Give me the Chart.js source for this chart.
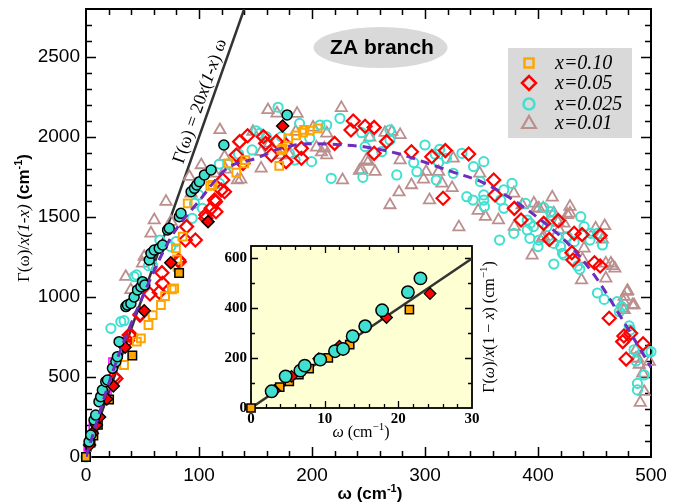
<!DOCTYPE html>
<html>
<head>
<meta charset="utf-8">
<script src="https://cdn.jsdelivr.net/npm/chart.js@4.4.1/dist/chart.umd.min.js"></script>
<style>
html, body { margin: 0; padding: 0; background: #fff; }
#wrap { position: relative; width: 678px; height: 504px; }
#main { position: absolute; left: 0; top: 0; }
#inset { position: absolute; left: 200px; top: 230px; }
</style>
</head>
<body>
<div id="wrap">
  <canvas id="main" width="678" height="504" style="width:678px;height:504px"></canvas>
  <canvas id="inset" width="310" height="215" style="width:310px;height:215px"></canvas>
</div>
<script>
// ---- data: [omega (cm^-1), Gamma/x(1-x) (cm^-1)] ----
var seriesLabels = ["x=0.10", "x=0.05", "x=0.025", "x=0.01"];

var orangeOpen = [[33.7,575],[45,721],[48.6,742],[55.3,825],[59,887],[66.3,950],[70,1006],[76,1048],[78,1054],[81,1189],[80.5,1235],[79.6,1304],[85.5,1377],[90,1585],[110,1694],[112,1700],[126,1835],[133,1777],[140,1835],[141,1856],[171,1819],[173,1919],[174,1929],[179,1992],[186,2010],[192,2027],[193,2044],[198,2040],[205,2054]];

var redOpen = [[24.9,502],[26.5,490],[36.7,727],[38.2,762],[39.7,762],[47.7,887],[48,894],[56.6,1019],[64.8,1030],[67.8,1085],[67.2,1152],[82,1231],[82.6,1220],[88,1356],[96.8,1356],[89,1440],[106,1492],[106,1513],[110.7,1554],[113.7,1606],[115,1533],[114.6,1596],[119.6,1669],[121,1731],[122.6,1658],[133,1887],[139,1835],[136,1971],[143,2008],[157,2002],[159,1960],[164,1887],[168.5,1971],[177,1950],[177,1846],[190.6,1929],[190.6,1867],[220,1960],[234.5,2044],[236.5,2100],[247,2067],[255,2060],[255,1898],[266,1971],[288,1908],[306,1877],[316,1617],[318,1915],[338.6,1894],[360.8,1731],[362,1638],[379,1554],[385,1481],[405,1460],[410,1360],[418,1477],[430,1277],[431,1231],[432,1398],[439,1390],[450,1214],[455,1194],[455,1385],[463,867],[475,721],[476,756],[478,612],[482,773],[493,708]];

var cyanOpen = [[0,0],[22,804],[30.8,846],[33.7,852],[42.6,1127],[44.7,1138],[55.3,1196],[59,1196],[65.4,1356],[75,1315],[79.6,1346],[94,1492],[96,1585],[99.7,1638],[103,1554],[118,1831],[125.5,1831],[118,1710],[135,1894],[147,1919],[150.7,2038],[153.6,2023],[159.6,2002],[170,2186],[173,2002],[180,1898],[185,1856],[189,2085],[198,1992],[199.6,1846],[207,2075],[213,2075],[217,1742],[224.7,2117],[244,2027],[245,1748],[247,1940],[251,2002],[261.7,1908],[269,1981],[269,2044],[275,1763],[290,1840],[292.8,1783],[300,1950],[309,1894],[310,1731],[312,1840],[313,1923],[319,1867],[325,1773],[332.7,1898],[337,1627],[342.5,1606],[343,1815],[349,1721],[352,1846],[352,1638],[352,1606],[352.6,1565],[366,1356],[367,1606],[369.7,1669],[369.7,1554],[377,1710],[378.6,1398],[389,1585],[390.5,1481],[390.5,1419],[393,1460],[396,1440],[392.8,1367],[400.8,1356],[400,1315],[405,1560],[408,1440],[411,1533],[411,1481],[412,1510],[414,1335],[414,1206],[417,1377],[420,1315],[421.6,1273],[423,1263],[426,1377],[432,1346],[435,1194],[437,1173],[437.8,1502],[440.8,1440],[446.7,1398],[446,1356],[452.6,1398],[457,1325],[452.6,1025],[458.6,985],[470,971],[472,908],[474,940],[480.7,819],[481.6,794],[485,670],[486.7,600],[488,460],[488,419],[494,513],[497.6,658],[500,658]];

var triOpen = [[35.2,1127],[39.7,1044],[50,1210],[51.5,1252],[57.5,1398],[60.4,1481],[70.8,1596],[75.2,1471],[91.5,1752],[93,1648],[102,1825],[113.7,1773],[118.5,2044],[122.6,1877],[123.4,1798],[134,1731],[137,1735],[147.7,2033],[155,1908],[155,1804],[161,2169],[162.5,1960],[169,2148],[171.4,1887],[180,1887],[185.6,2033],[186.8,2146],[201,2060],[204,1935],[208.4,1905],[211,1929],[213,2023],[213,1887],[226,2182],[227,1731],[242,1790],[244,1794],[248,1856],[250,1846],[251,1998],[255.8,1783],[264.6,2027],[269,1575],[270.6,2033],[277,1655],[278,2013],[278,1856],[288,1700],[298.7,1735],[301,1783],[304,1606],[312,1783],[315,1710],[324,1682],[325,1867],[330,1437],[347,1540],[348.4,1773],[353.5,1502],[365,1481],[378.6,1648],[379,1440],[386,1575],[394.8,1260],[396.4,1585],[398.7,1554],[400.8,1554],[404.6,1554],[405,1377],[403.7,1367],[412.6,1623],[414,1523],[417.7,1465],[418.6,1419],[423,1460],[426,1513],[428.3,1565],[428.3,1523],[438.5,1106],[439.4,1235],[440.8,1304],[451,1429],[455.6,1388],[457,1360],[459,1444],[460,1117],[460,1210],[464.5,1210],[466,1194],[468,1179],[474.8,929],[476.3,1002],[475.7,971],[478.7,1033],[479.3,1039],[483.6,950],[485,950],[476.3,919],[486.7,669],[486.7,617],[488.2,617],[489.6,578],[492.6,523],[494,408],[490.5,340],[498.6,596]];

// filled markers of the main panel
var cyanFilled = [[2.7,96],[4.2,137],[7.1,231],[8.6,262],[11.5,346],[13,377],[14.5,419],[17.5,471],[19,481],[23.4,554],[26.4,596],[27.8,627],[29.3,721],[35.3,940],[36.7,950],[39.7,960],[42.6,1000],[45.6,1044],[48.6,1064],[50,1096],[52,1075],[56,1231],[57.5,1273],[60.4,1294],[64.8,1304],[67.8,1325],[72.2,1419],[73.7,1429],[82.6,1502],[84,1523],[93,1658],[96,1679],[98,1700],[100.4,1721],[104.8,1763],[110.7,1794],[122,1950],[178,2138]];
var redFilled = [[3.2,75],[5.6,148],[9.2,200],[12,250],[18.4,363],[24.2,444],[34.6,686],[51.5,914],[75,1214],[108,1471],[174,2069]];
var orangeFilled = [[0,0],[4,90],[6.5,134],[10.5,201],[20.4,360],[41,635],[82.4,1150]];
var magentaOpen = [[1.5,60],[4,110],[6,190],[8.5,195],[19,400],[23.4,596]];

// filled markers of the inset (low-frequency zoom)
var insetCyan = [[2.8,67],[4.7,127],[6.7,150],[7.3,170],[9.4,194],[11.4,228],[12.5,237],[13.8,288],[15.5,328],[17.8,392],[21.3,465],[23,520]];
var insetRed = [[3.2,70],[5.5,127],[7.1,154],[9.2,198],[12,248],[18.4,363],[24.3,459]];
var insetOrange = [[0,0],[3.9,84],[5.2,107],[6.5,134],[7.9,158],[10.5,201],[13.4,254],[21.5,395]];

// fitted curve (dashed) and the linear law Gamma = 20 x(1-x) omega
var fitOmega = [0,25,50,75,100,125,150,175,200,225,250,275,300,325,350,375,400,425,450,475,500];
var fitGamma = [0,560,1000,1370,1600,1805,1865,1935,1958,1952,1935,1898,1842,1780,1720,1620,1495,1345,1135,855,560];
var lawOmega = [0, 140];
var lawGamma = [0, 2800];
var insetLawOmega = [0, 30];
var insetLawGamma = [0, 600];

var xTickValues = [0,100,200,300,400,500];
var yTickValues = [0,500,1000,1500,2000,2500];
var insetXTicks = [0,10,20,30];
var insetYTicks = [0,200,400,600];

function pts(arr) { return arr.map(function(p){ return {x:p[0], y:p[1]}; }); }
function linePts(xs, ys) { return xs.map(function(v,i){ return {x:v, y:ys[i]}; }); }

var SANS = '"Liberation Sans", Arial, sans-serif';
var SERIF = '"Liberation Serif", "Times New Roman", serif';

// draws a line of text made of several font runs
function drawRich(ctx, parts, x, y, angle, align) {
  ctx.save();
  ctx.translate(x, y);
  ctx.rotate(angle);
  ctx.textBaseline = 'alphabetic';
  ctx.textAlign = 'left';
  ctx.fillStyle = '#000';
  var w = 0;
  parts.forEach(function(p){ ctx.font = p.font; w += ctx.measureText(p.text).width; });
  var cx = align === 'center' ? -w/2 : 0;
  parts.forEach(function(p){
    ctx.font = p.font;
    ctx.fillText(p.text, cx, p.dy || 0);
    cx += ctx.measureText(p.text).width;
  });
  ctx.restore();
}

function drawFrame(chart, xMinor, xMajor, yMinor, yMajor, majLen, minLen, lw) {
  var ctx = chart.ctx, a = chart.chartArea, sx = chart.scales.x, sy = chart.scales.y;
  ctx.save();
  ctx.strokeStyle = '#000';
  ctx.lineWidth = lw;
  ctx.beginPath();
  var v, p, len;
  for (v = sx.min + xMinor; v < sx.max - 1e-9; v += xMinor) {
    p = Math.round(sx.getPixelForValue(v)) + 0.5;
    len = Math.abs(v/xMajor - Math.round(v/xMajor)) < 1e-6 ? majLen : minLen;
    ctx.moveTo(p, a.bottom); ctx.lineTo(p, a.bottom - len);
    ctx.moveTo(p, a.top); ctx.lineTo(p, a.top + len);
  }
  for (v = sy.min + yMinor; v < sy.max - 1e-9; v += yMinor) {
    p = Math.round(sy.getPixelForValue(v)) + 0.5;
    len = Math.abs(v/yMajor - Math.round(v/yMajor)) < 1e-6 ? majLen : minLen;
    ctx.moveTo(a.left, p); ctx.lineTo(a.left + len, p);
    ctx.moveTo(a.right, p); ctx.lineTo(a.right - len, p);
  }
  ctx.stroke();
  ctx.lineWidth = lw + 0.5;
  ctx.strokeRect(a.left, a.top, a.right - a.left, a.bottom - a.top);
  ctx.restore();
}

function marker(ctx, style, x, y, r, color, lw) {
  ctx.save();
  ctx.strokeStyle = color;
  ctx.lineWidth = lw;
  ctx.beginPath();
  if (style === 'rect') {
    ctx.rect(x - r, y - r, 2*r, 2*r);
  } else if (style === 'rectRot') {
    ctx.moveTo(x - r, y); ctx.lineTo(x, y - r); ctx.lineTo(x + r, y); ctx.lineTo(x, y + r); ctx.closePath();
  } else if (style === 'circle') {
    ctx.arc(x, y, r, 0, Math.PI*2);
  } else {
    ctx.moveTo(x, y - r); ctx.lineTo(x + r*0.866, y + r*0.5); ctx.lineTo(x - r*0.866, y + r*0.5); ctx.closePath();
  }
  ctx.stroke();
  ctx.restore();
}

var ORANGE = '#ffa500', RED = '#ff0000', CYAN = '#40e0d0', BROWN = '#bc8f8f', PURPLE = '#6f2dbd';

var mainDecor = {
  id: 'mainDecor',
  beforeDatasetsDraw: function(chart) {
    drawFrame(chart, 20, 100, 100, 500, 10, 6, 1.5);
  },
  afterDraw: function(chart) {
    var ctx = chart.ctx, sx = chart.scales.x, sy = chart.scales.y;
    // "ZA branch" bubble
    ctx.save();
    ctx.fillStyle = '#d9d9d9';
    ctx.beginPath();
    ctx.ellipse(380.5, 47.5, 67, 20.5, 0, 0, Math.PI*2);
    ctx.fill();
    ctx.fillStyle = '#000';
    ctx.font = 'bold 21px ' + SANS;
    ctx.textAlign = 'center';
    ctx.textBaseline = 'middle';
    ctx.fillText('ZA branch', 382, 48);
    ctx.restore();

    // legend
    ctx.save();
    ctx.fillStyle = '#d9d9d9';
    ctx.fillRect(508, 48, 124, 90);
    var styles = [['rect', ORANGE, 4.5, 2.5], ['rectRot', RED, 7, 2.5], ['circle', CYAN, 5.5, 2.5], ['triangle', BROWN, 8, 2.2]];
    var rows = [63, 83, 104, 123];
    for (var i = 0; i < 4; i++) {
      marker(ctx, styles[i][0], 529, rows[i] + (styles[i][0] === 'triangle' ? 1 : 0), styles[i][2], styles[i][1], styles[i][3]);
      ctx.fillStyle = '#000';
      ctx.font = 'italic 20px ' + SERIF;
      ctx.textAlign = 'left';
      ctx.textBaseline = 'middle';
      ctx.fillText(seriesLabels[i], 555, rows[i] + 1);
    }
    ctx.restore();

    // label along the linear law
    var p0x = sx.getPixelForValue(lawOmega[0]), p0y = sy.getPixelForValue(lawGamma[0]);
    var p1x = sx.getPixelForValue(lawOmega[1]), p1y = sy.getPixelForValue(lawGamma[1]);
    var ang = Math.atan2(p1y - p0y, p1x - p0x);
    var cxp = sx.getPixelForValue(110), cyp = sy.getPixelForValue(2200);
    var off = 6;
    var bx = cxp + off * Math.sin(ang), by = cyp - off * Math.cos(ang);
    drawRich(ctx, [
      {text: '\u0393(\u03c9) = 20', font: '18px ' + SERIF},
      {text: 'x', font: 'italic 18px ' + SERIF},
      {text: '(', font: '18px ' + SERIF},
      {text: '1-x', font: 'italic 18px ' + SERIF},
      {text: ') \u03c9', font: '18px ' + SERIF}
    ], bx, by, ang, 'center');

    // axis titles
    drawRich(ctx, [
      {text: '\u0393(\u03c9)/', font: '17px ' + SERIF},
      {text: 'x(1-x)', font: 'italic 17px ' + SERIF},
      {text: ' (cm', font: 'bold 17px ' + SANS},
      {text: '-1', font: 'bold 11px ' + SANS, dy: -7},
      {text: ')', font: 'bold 17px ' + SANS}
    ], 29, 218, -Math.PI/2, 'center');
    drawRich(ctx, [
      {text: '\u03c9 (cm', font: 'bold 17px ' + SANS},
      {text: '-1', font: 'bold 11px ' + SANS, dy: -7},
      {text: ')', font: 'bold 17px ' + SANS}
    ], 370, 499, 0, 'center');
  }
};

function plainLabel(v) { return String(v); }

var mainChart = new Chart(document.getElementById('main'), {
  type: 'scatter',
  data: {
    datasets: [
      { label: 'fit', data: linePts(fitOmega, fitGamma), showLine: true, borderColor: PURPLE, borderWidth: 3, borderDash: [9, 6], pointRadius: 0, tension: 0.4, cubicInterpolationMode: 'monotone' },
      { label: 'cyan filled', data: pts(cyanFilled), clip: false, pointStyle: 'circle', pointRadius: 5, pointBackgroundColor: CYAN, pointBorderColor: '#000', pointBorderWidth: 1.5 },
      { label: 'red filled', data: pts(redFilled), clip: false, pointStyle: 'rectRot', pointRadius: 6, pointBackgroundColor: RED, pointBorderColor: '#000', pointBorderWidth: 1.5 },
      { label: 'orange filled', data: pts(orangeFilled), clip: false, pointStyle: 'rect', pointRadius: 6, pointBackgroundColor: ORANGE, pointBorderColor: '#000', pointBorderWidth: 1.5 },
      { label: 'magenta', data: pts(magentaOpen), clip: false, pointStyle: 'rect', pointRadius: 5, pointBackgroundColor: 'rgba(0,0,0,0)', pointBorderColor: '#ff00ff', pointBorderWidth: 1.5 },
      { label: seriesLabels[0], data: pts(orangeOpen), clip: false, pointStyle: 'rect', pointRadius: 5.5, pointBackgroundColor: 'rgba(0,0,0,0)', pointBorderColor: ORANGE, pointBorderWidth: 2 },
      { label: seriesLabels[1], data: pts(redOpen), clip: false, pointStyle: 'rectRot', pointRadius: 6.5, pointBackgroundColor: 'rgba(0,0,0,0)', pointBorderColor: RED, pointBorderWidth: 2.2 },
      { label: seriesLabels[2], data: pts(cyanOpen), clip: false, pointStyle: 'circle', pointRadius: 4.6, pointBackgroundColor: 'rgba(0,0,0,0)', pointBorderColor: CYAN, pointBorderWidth: 2 },
      { label: seriesLabels[3], data: pts(triOpen), clip: false, pointStyle: 'triangle', pointRadius: 6.5, pointBackgroundColor: 'rgba(0,0,0,0)', pointBorderColor: BROWN, pointBorderWidth: 1.8 },
      { label: 'law', data: linePts(lawOmega, lawGamma), showLine: true, borderColor: '#333', borderWidth: 2.5, pointRadius: 0 }
    ]
  },
  options: {
    responsive: false,
    animation: false,
    events: [],
    layout: { padding: { top: 9, right: 27, left: 0, bottom: 0 } },
    plugins: { legend: { display: false }, tooltip: { enabled: false } },
    scales: {
      x: {
        type: 'linear', min: 0, max: 500,
        grid: { display: false, drawTicks: false }, border: { display: false },
        ticks: { padding: 7, color: '#000', font: { family: SANS, size: 19 }, callback: plainLabel },
        afterBuildTicks: function(s) { s.ticks = xTickValues.map(function(v){ return {value: v}; }); },
        afterFit: function(s) { s.height = 47; s.paddingLeft = 0; s.paddingRight = 0; }
      },
      y: {
        type: 'linear', min: 0, max: 2800,
        grid: { display: false, drawTicks: false }, border: { display: false },
        ticks: { padding: 6, color: '#000', font: { family: SANS, size: 19 }, callback: plainLabel },
        afterBuildTicks: function(s) { s.ticks = yTickValues.map(function(v){ return {value: v}; }); },
        afterFit: function(s) { s.width = 86; s.paddingTop = 0; s.paddingBottom = 0; }
      }
    }
  },
  plugins: [mainDecor]
});

var insetDecor = {
  id: 'insetDecor',
  beforeDatasetsDraw: function(chart) {
    var a = chart.chartArea, ctx = chart.ctx;
    ctx.save();
    ctx.fillStyle = '#ffffd4';
    ctx.fillRect(a.left, a.top, a.right - a.left, a.bottom - a.top);
    ctx.restore();
    drawFrame(chart, 2, 10, 100, 200, 7, 4, 1.3);
  },
  afterDraw: function(chart) {
    var ctx = chart.ctx;
    drawRich(ctx, [
      {text: '\u03c9', font: 'italic 16px ' + SERIF},
      {text: ' (cm', font: '16px ' + SERIF},
      {text: '\u22121', font: '11px ' + SERIF, dy: -7},
      {text: ')', font: '16px ' + SERIF}
    ], 161, 207, 0, 'center');
    drawRich(ctx, [
      {text: '\u0393(', font: '16px ' + SERIF},
      {text: '\u03c9', font: 'italic 16px ' + SERIF},
      {text: ')/', font: '16px ' + SERIF},
      {text: 'x', font: 'italic 16px ' + SERIF},
      {text: '(1 \u2212 ', font: '16px ' + SERIF},
      {text: 'x', font: 'italic 16px ' + SERIF},
      {text: ') (cm', font: '16px ' + SERIF},
      {text: '\u22121', font: '11px ' + SERIF, dy: -7},
      {text: ')', font: '16px ' + SERIF}
    ], 294, 97, -Math.PI/2, 'center');
  }
};

var insetChart = new Chart(document.getElementById('inset'), {
  type: 'scatter',
  data: {
    datasets: [
      { label: 'cyan filled', data: pts(insetCyan), clip: false, pointStyle: 'circle', pointRadius: 6.2, pointBackgroundColor: CYAN, pointBorderColor: '#000', pointBorderWidth: 1.5 },
      { label: 'red filled', data: pts(insetRed), clip: false, pointStyle: 'rectRot', pointRadius: 5.8, pointBackgroundColor: RED, pointBorderColor: '#000', pointBorderWidth: 1.3 },
      { label: 'orange filled', data: pts(insetOrange), clip: false, pointStyle: 'rect', pointRadius: 5.8, pointBackgroundColor: ORANGE, pointBorderColor: '#000', pointBorderWidth: 1.5 },
      { label: 'law', data: linePts(insetLawOmega, insetLawGamma), showLine: true, borderColor: '#333', borderWidth: 2.5, pointRadius: 0 }
    ]
  },
  options: {
    responsive: false,
    animation: false,
    events: [],
    layout: { padding: { top: 16, right: 38, left: 0, bottom: 0 } },
    plugins: { legend: { display: false }, tooltip: { enabled: false } },
    scales: {
      x: {
        type: 'linear', min: 0, max: 30,
        grid: { display: false, drawTicks: false }, border: { display: false },
        ticks: { padding: 2, color: '#000', font: { family: SERIF, size: 15, weight: 'bold' }, callback: plainLabel },
        afterBuildTicks: function(s) { s.ticks = insetXTicks.map(function(v){ return {value: v}; }); },
        afterFit: function(s) { s.height = 37; s.paddingLeft = 0; s.paddingRight = 0; }
      },
      y: {
        type: 'linear', min: 0, max: 650,
        grid: { display: false, drawTicks: false }, border: { display: false },
        ticks: { padding: 4, color: '#000', font: { family: SERIF, size: 15, weight: 'bold' }, callback: plainLabel },
        afterBuildTicks: function(s) { s.ticks = insetYTicks.map(function(v){ return {value: v}; }); },
        afterFit: function(s) { s.width = 51; s.paddingTop = 0; s.paddingBottom = 0; }
      }
    }
  },
  plugins: [insetDecor]
});
</script>
</body>
</html>
